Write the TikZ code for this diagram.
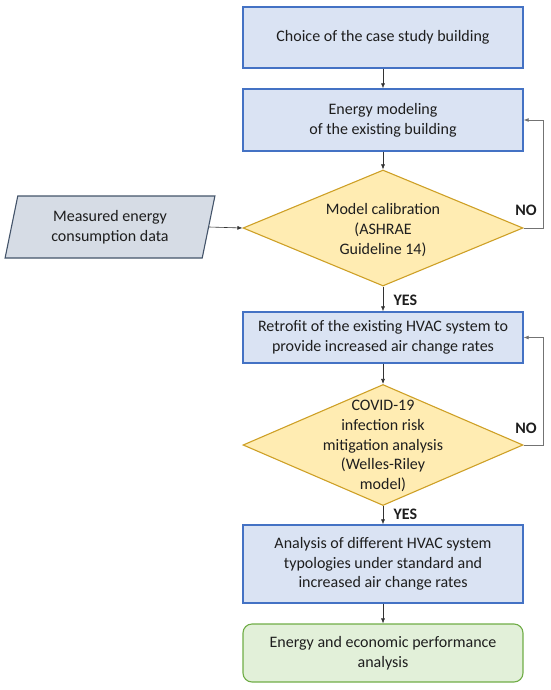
\documentclass[tikz,border=0pt]{standalone}
\usepackage{fontspec}
\setmainfont{Carlito}
\usetikzlibrary{arrows.meta,positioning,shapes.geometric}
\definecolor{stepfill}{RGB}{218,227,243}
\definecolor{stepline}{RGB}{68,114,196}
\definecolor{askfill}{RGB}{255,236,178}
\definecolor{askline}{RGB}{206,160,38}
\definecolor{datafill}{RGB}{214,220,229}
\definecolor{dataline}{RGB}{68,84,106}
\definecolor{endfill}{RGB}{226,240,217}
\definecolor{endline}{RGB}{112,173,71}
\definecolor{txtcolor}{RGB}{30,30,30}
\newcommand{\flowfont}{\fontsize{16}{19.8}\selectfont}
\tikzset{
  stepbox/.style={draw=stepline, fill=stepfill, line width=1.3pt,
    minimum width=280pt, align=center, text=txtcolor},
  askbox/.style={diamond, draw=askline, fill=askfill, line width=1.1pt,
    minimum width=280pt, inner sep=0pt},
  asktext/.style={align=center, text=txtcolor},
  databox/.style={trapezium, trapezium left angle=78, trapezium right angle=102,
    trapezium stretches=true, draw=dataline, fill=datafill, line width=1.1pt,
    minimum width=210pt, minimum height=62pt, align=center, text=txtcolor},
  endbox/.style={draw=endline, fill=endfill, line width=1.1pt, rounded corners=9pt,
    minimum width=280pt, minimum height=58pt, align=center, text=txtcolor},
  flow/.style={-{Latex[length=5pt,width=4pt]}, black!80, line width=0.6pt},
  back/.style={-{Latex[length=5pt,width=4pt]}, black!55, line width=0.8pt},
  answer/.style={font=\flowfont\bfseries, text=txtcolor}
}
\begin{document}
\begin{tikzpicture}[x=1pt, y=-1pt, font=\flowfont]
  \useasboundingbox (0,0) rectangle (550,690);
  % main column
  \node[stepbox, minimum height=61pt] (choice) at (383,37.5) {Choice of the case study building};
  \node[stepbox, minimum height=62pt] (model) at (383,120) {Energy modeling\\of the existing building};
  \node[askbox, minimum height=116pt] (calib) at (383,228) {};
  \node[asktext] (calibtxt) at (383,230) {Model calibration\\(ASHRAE\\Guideline 14)};
  \node[databox] (measured) at (110,227) {Measured energy\\consumption data};
  \node[stepbox, minimum height=51pt] (retrofit) at (383,337.5) {Retrofit of the existing HVAC system to\\provide increased air change rates};
  \node[askbox, minimum height=121pt] (risk) at (383,445) {};
  \node[asktext] (risktxt) at (383,446) {COVID-19\\infection risk\\mitigation analysis\\(Welles-Riley\\model)};
  \node[stepbox, minimum height=78pt] (typo) at (383,564) {Analysis of different HVAC system\\typologies under standard and\\increased air change rates};
  \node[endbox] (perf) at (383,653) {Energy and economic performance\\analysis};
  % connectors
  \draw[flow] (choice) -- (model);
  \draw[flow] (model) -- (calib);
  \draw[flow] (measured.east) -- (calib.west);
  \draw[flow] (calib) -- (retrofit);
  \draw[flow] (retrofit) -- (risk);
  \draw[flow] (risk) -- (typo);
  \draw[flow] (typo) -- (perf);
  \draw[back] (calib.east) -- ++(20,0) |- (model.east);
  \draw[back] (risk.east) -- ++(20,0) |- (retrofit.east);
  % answers
  \node[answer] (no1) at (526,210) {NO};
  \node[answer] (no2) at (526,428) {NO};
  \node[answer, anchor=west] (yes1) at (390,300) {YES};
  \node[answer, anchor=west] (yes2) at (390,514) {YES};
\end{tikzpicture}
\end{document}
